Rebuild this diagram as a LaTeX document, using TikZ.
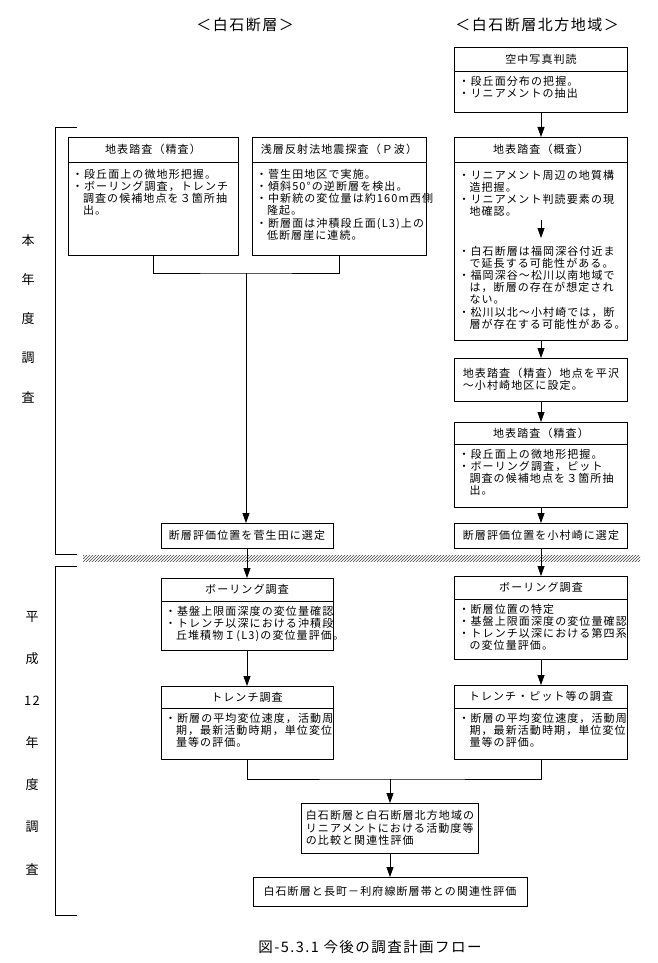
\documentclass[tikz,border=0pt]{standalone}
\usepackage{fontspec}
\newfontfamily\jp[LetterSpace=10]{Noto Sans CJK JP}
\usetikzlibrary{positioning,arrows.meta,patterns}
\newcommand\jpbody{\jp\fontsize{11}{12.2}\selectfont}
\newcommand\ind{\hphantom{・}}
\newcommand\bodytxt[3]{\parbox[t][#1][t]{#2}{#3}}
\tikzset{head/.style={draw,inner sep=0pt,outer sep=0pt,minimum height=#1,font=\jpbody},
body/.style={draw,inner xsep=4pt,inner ysep=5pt,outer sep=0pt,font=\jpbody}}
\tikzstyle{note} = [draw,inner sep=4pt,outer sep=0pt,align=left,font=\jpbody]
\tikzstyle{arr}  = [-{Triangle[length=10pt,width=7pt]}]
\tikzstyle{lab}  = [font=\jp\fontsize{13}{14}\selectfont]

\begin{document}
\begin{tikzpicture}[x=1pt,y=-1pt,line width=0.8pt,
			ttl/.style={font=\jp\fontsize{15}{18}\selectfont}]
		\useasboundingbox (0,0) rectangle (657,963);
		\node[ttl] (T1) at (245,25) {＜白石断層＞};
		\node[ttl] (T2) at (537,25) {＜白石断層北方地域＞};

		% right column
		\node[head=24pt,minimum width=173pt,anchor=north] (R1h) at (541,47) {空中写真判読};
		\node[body,below=0pt of R1h] (R1b) {\bodytxt{31pt}{165pt}{・段丘面分布の把握。\\・リニアメントの抽出}};
		\node[head=25pt,minimum width=173pt,below=25pt of R1b] (R2h) {地表踏査（概査）};
		\node[body,below=0pt of R2h] (R2b) {\bodytxt{168pt}{165pt}{\vspace*{3pt}・リニアメント周辺の地質構\\\ind 造把握。\\・リニアメント判読要素の現\\\ind 地確認。\\[27pt]・白石断層は福岡深谷付近ま\\\ind で延長する可能性がある。\\・福岡深谷〜松川以南地域で\\\ind は，断層の存在が想定され\\\ind ない。\\・松川以北〜小村崎では，断\\\ind 層が存在する可能性がある。}};
		\node[note,minimum width=173pt,minimum height=43pt,below=18pt of R2b] (R3) {地表踏査（精査）地点を平沢\\〜小村崎地区に設定。};
		\node[head=22pt,minimum width=173pt,below=21pt of R3] (R4h) {地表踏査（精査）};
		\node[body,below=0pt of R4h] (R4b) {\bodytxt{53pt}{165pt}{・段丘面上の微地形把握。\\・ボーリング調査，ピット\\\ind 調査の候補地点を３箇所抽\\\ind 出。}};
		\node[note,minimum width=173pt,minimum height=25pt,below=16pt of R4b] (R5) {断層評価位置を小村崎に選定};
		\node[head=23pt,minimum width=173pt,below=28pt of R5] (R6h) {ボーリング調査};
		\node[body,below=0pt of R6h] (R6b) {\bodytxt{50pt}{165pt}{・断層位置の特定\\・基盤上限面深度の変位量確認\\・トレンチ以深における第四系\\\ind の変位量評価。}};
		\node[head=23pt,minimum width=173pt,below=26pt of R6b] (R7h) {トレンチ・ピット等の調査};
		\node[body,below=0pt of R7h] (R7b) {\bodytxt{41pt}{165pt}{・断層の平均変位速度，活動周\\\ind 期，最新活動時期，単位変位\\\ind 量等の評価。}};

		% left column
		\node[head=25pt,minimum width=170pt,anchor=north] (Ah) at (153,137) {地表踏査（精査）};
		\node[body,below=0pt of Ah] (Ab) {\bodytxt{83pt}{162pt}{\vspace*{2pt}・段丘面上の微地形把握。\\・ボーリング調査，トレンチ\\\ind 調査の候補地点を３箇所抽\\\ind 出。}};
		\node[head=25pt,minimum width=174pt,anchor=north] (Bh) at (339,137) {浅層反射法地震探査（Ｐ波）};
		\node[body,below=0pt of Bh] (Bb) {\bodytxt{83pt}{166pt}{\vspace*{2pt}・菅生田地区で実施。\\・傾斜50°の逆断層を検出。\\・中新統の変位量は約160m西側\\\ind 隆起。\\・断層面は沖積段丘面(L3)上の\\\ind 低断層崖に連続。}};
		\node[note,minimum width=172pt,minimum height=25pt,anchor=north] (L5) at (247,523) {断層評価位置を菅生田に選定};
		\node[head=23pt,minimum width=172pt,below=30pt of L5] (L6h) {ボーリング調査};
		\node[body,below=0pt of L6h] (L6b) {\bodytxt{39pt}{164pt}{・基盤上限面深度の変位量確認\\・トレンチ以深における沖積段\\\ind 丘堆積物Ｉ(L3)の変位量評価。}};
		\node[head=22pt,minimum width=172pt,below=36pt of L6b] (L7h) {トレンチ調査};
		\node[body,below=0pt of L7h] (L7b) {\bodytxt{41pt}{164pt}{・断層の平均変位速度，活動周\\\ind 期，最新活動時期，単位変位\\\ind 量等の評価。}};

		% common part
		\node[note,minimum width=173pt,minimum height=50pt,anchor=north] (C) at (390,803) {白石断層と白石断層北方地域の\\リニアメントにおける活動度等\\の比較と関連性評価};
		\node[note,align=center,minimum width=274pt,minimum height=29pt,below=24pt of C] (F) {白石断層と長町－利府線断層帯との関連性評価};
		\node[font=\jp\fontsize{14.5}{16}\selectfont] (cap) at (370,947) {図-5.3.1 今後の調査計画フロー};

		% year brackets
		\draw (77,127) -- (55,127) -- (55,554) -- (77,554);
		\draw (77,566) -- (55,566) -- (55,915) -- (77,915);
		\foreach \c [count=\i from 0] in {本,年,度,調,査}
			\node[lab] (y\i) at (28,{241+39*\i}) {\c};
		\foreach \c [count=\i from 0] in {平,成,12,年,度,調,査}
			\node[lab] (z\i) at (32,{617+42*\i}) {\c};
		\fill[pattern=north east lines,pattern color=black!75] (83,555) rectangle (640,561);

		% connectors
		\draw[arr] (R1b) -- (R2h);
		\coordinate (R2i) at ([yshift=-58pt]R2b.north);
		\coordinate (R2j) at ([yshift=-76pt]R2b.north);
		\draw[arr] (R2i) -- (R2j);
		\draw[arr] (R2b) -- (R3);
		\draw[arr] (R3) -- (R4h);
		\draw[arr] (R4b) -- (R5);
		\draw[arr] (R5) -- (R6h);
		\draw[arr] (R6b) -- (R7h);
		\coordinate (J) at (246,273);
		\draw (Ab.south) |- (J) -| (Bb.south);
		\draw[arr] (J) -- (J |- L5.north);
		\draw[arr] (L5) -- (L6h);
		\draw[arr] (L6b) -- (L7h);
		\coordinate (K) at (390,779);
		\draw (L7b.south) |- (K) -| (R7b.south);
		\draw[arr] (K) -- (C);
		\draw[arr] (C) -- (F);
	\end{tikzpicture}
\end{document}
